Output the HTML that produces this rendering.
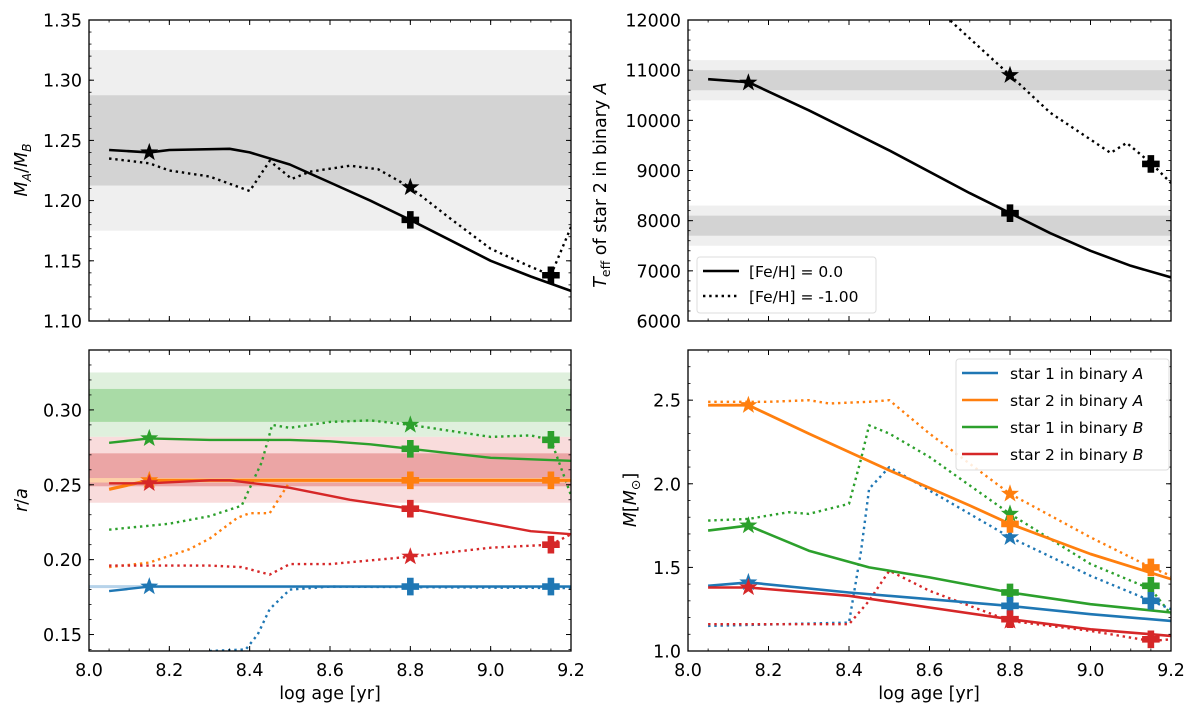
<!DOCTYPE html>
<html><head><meta charset="utf-8">
<style>
body{margin:0;background:#fff;position:relative;width:1200px;height:715px;overflow:hidden;}
svg{display:block;font-family:"DejaVu Sans","Liberation Sans",sans-serif;}
</style></head>
<body>
<svg id="fig" width="1200" height="715" viewBox="0 0 1200 715"></svg>
<script>
// ---------- data ----------
const C = {blue:'#1f77b4', orange:'#ff7f0e', green:'#2ca02c', red:'#d62728', black:'#000'};
// panel 1: mass ratio
const ratioSolidX = [8.05,8.15,8.2,8.35,8.4,8.5,8.6,8.7,8.8,8.9,9.0,9.1,9.2];
const ratioSolidY = [1.242,1.240,1.242,1.243,1.240,1.230,1.215,1.200,1.184,1.167,1.150,1.137,1.125];
const ratioDotX = [8.05,8.15,8.2,8.3,8.4,8.45,8.505,8.55,8.65,8.72,8.8,8.9,9.0,9.1,9.15,9.2];
const ratioDotY = [1.235,1.231,1.225,1.220,1.208,1.233,1.218,1.224,1.229,1.226,1.211,1.185,1.160,1.145,1.138,1.178];
const ratioMarkers = [[8.15,1.240,'star'],[8.8,1.211,'star'],[8.8,1.184,'plus'],[9.15,1.138,'plus']];
// panel 2: Teff
const teffSolidX = [8.05,8.15,8.3,8.5,8.7,8.8,8.9,9.0,9.1,9.2];
const teffSolidY = [10820,10760,10200,9400,8550,8150,7750,7400,7100,6870];
const teffDotX = [8.6,8.65,8.8,8.9,9.05,9.09,9.15,9.2];
const teffDotY = [12600,12000,10900,10150,9350,9550,9150,8750];
const teffMarkers = [[8.15,10750,'star'],[8.8,10900,'star'],[8.8,8150,'plus'],[9.15,9130,'plus']];
// panel 3: r/a
const raGreenX = [8.05,8.15,8.3,8.5,8.6,8.7,8.8,9.0,9.2];
const raGreenY = [0.278,0.281,0.280,0.280,0.279,0.277,0.274,0.268,0.266];
const raGreenDX = [8.05,8.2,8.3,8.38,8.43,8.456,8.5,8.6,8.7,8.8,8.9,9.0,9.1,9.15,9.2];
const raGreenDY = [0.220,0.224,0.229,0.236,0.265,0.290,0.288,0.292,0.293,0.290,0.286,0.282,0.283,0.280,0.243];
const raOrangeX = [8.05,8.15,8.5,9.2];
const raOrangeY = [0.247,0.253,0.253,0.253];
const raOrangeDX = [8.05,8.15,8.25,8.3,8.37,8.4,8.45,8.5];
const raOrangeDY = [0.195,0.198,0.207,0.214,0.228,0.231,0.231,0.252];
const raRedX = [8.05,8.15,8.3,8.35,8.5,8.65,8.8,9.0,9.1,9.2];
const raRedY = [0.251,0.251,0.253,0.253,0.248,0.240,0.234,0.224,0.219,0.217];
const raRedDX = [8.05,8.15,8.3,8.38,8.45,8.5,8.6,8.8,9.0,9.15,9.2];
const raRedDY = [0.196,0.196,0.196,0.195,0.190,0.197,0.197,0.202,0.208,0.210,0.217];
const raBlueX = [8.05,8.15,8.5,9.2];
const raBlueY = [0.179,0.182,0.182,0.182];
const raBlueDX = [8.3,8.39,8.42,8.45,8.5,8.6,9.2];
const raBlueDY = [0.139,0.140,0.150,0.167,0.180,0.182,0.181];
const raMarkers = [
 [8.15,0.281,'star','green'],[8.15,0.253,'star','orange'],[8.15,0.251,'star','red'],[8.15,0.182,'star','blue'],
 [8.8,0.274,'plus','green'],[8.8,0.253,'plus','orange'],[8.8,0.234,'plus','red'],[8.8,0.182,'plus','blue'],
 [8.8,0.290,'star','green'],[8.8,0.202,'star','red'],
 [9.15,0.280,'plus','green'],[9.15,0.253,'plus','orange'],[9.15,0.210,'plus','red'],[9.15,0.182,'plus','blue']];
// panel 4: masses
const mOrangeX = [8.05,8.15,8.3,8.5,8.7,8.8,9.0,9.2];
const mOrangeY = [2.47,2.47,2.30,2.08,1.87,1.76,1.58,1.43];
const mOrangeDX = [8.05,8.2,8.3,8.35,8.45,8.5,8.6,8.7,8.8,9.0,9.15,9.2];
const mOrangeDY = [2.49,2.49,2.50,2.48,2.49,2.50,2.30,2.12,1.94,1.68,1.50,1.45];
const mGreenX = [8.05,8.15,8.3,8.45,8.6,8.8,9.0,9.2];
const mGreenY = [1.72,1.75,1.60,1.50,1.44,1.35,1.28,1.23];
const mGreenDX = [8.05,8.15,8.25,8.3,8.4,8.43,8.45,8.5,8.6,8.8,9.0,9.15,9.2];
const mGreenDY = [1.78,1.79,1.83,1.82,1.88,2.15,2.35,2.30,2.16,1.82,1.52,1.37,1.22];
const mBlueX = [8.05,8.15,8.4,8.6,8.8,9.0,9.2];
const mBlueY = [1.39,1.41,1.35,1.31,1.27,1.22,1.18];
const mBlueDX = [8.05,8.4,8.43,8.45,8.5,8.6,8.8,9.0,9.15,9.2];
const mBlueDY = [1.15,1.17,1.60,1.97,2.10,1.96,1.68,1.45,1.30,1.25];
const mRedX = [8.05,8.15,8.4,8.6,8.8,9.0,9.2];
const mRedY = [1.38,1.38,1.33,1.26,1.19,1.13,1.09];
const mRedDX = [8.05,8.4,8.45,8.5,8.6,8.8,9.0,9.15,9.2];
const mRedDY = [1.16,1.16,1.30,1.48,1.36,1.18,1.12,1.06,1.07];
const mMarkers = [
 [8.15,2.47,'star','orange'],[8.15,1.75,'star','green'],[8.15,1.41,'star','blue'],[8.15,1.38,'star','red'],
 [8.8,1.94,'star','orange'],[8.8,1.82,'star','green'],[8.8,1.68,'star','blue'],[8.8,1.18,'star','red'],
 [8.8,1.76,'plus','orange'],[8.8,1.35,'plus','green'],[8.8,1.27,'plus','blue'],[8.8,1.19,'plus','red'],
 [9.15,1.50,'plus','orange'],[9.15,1.39,'plus','green'],[9.15,1.30,'plus','blue'],[9.15,1.07,'plus','red']];
const xTicks = [8.0,8.2,8.4,8.6,8.8,9.0,9.2];
const xTickLabels = ['8.0','8.2','8.4','8.6','8.8','9.0','9.2'];

// ---------- helpers ----------
const NS='http://www.w3.org/2000/svg';
const svg=document.getElementById('fig');
function mk(tag,attrs,parent){const e=document.createElementNS(NS,tag);for(const k in attrs)e.setAttribute(k,attrs[k]);(parent||svg).appendChild(e);return e;}

function makePanel(name,L,R,T,B,x0,x1,y0,y1){
  const g=mk('g',{});
  
  
  const clipId=name+'-clip';
  const cp=mk('clipPath',{id:clipId},g);mk('rect',{x:L,y:T,width:R-L,height:B-T},cp);
  const inner=mk('g',{'clip-path':'url(#'+clipId+')'},g);
  return {g,inner,L,R,T,B,sx:v=>L+(v-x0)/(x1-x0)*(R-L),sy:v=>B-(v-y0)/(y1-y0)*(B-T),x0,x1,y0,y1};
}
function band(p,lo,hi,color,name){
  const r=mk('rect',{x:p.L,width:p.R-p.L,y:p.sy(hi),height:p.sy(lo)-p.sy(hi),fill:color},p.inner);
  
  
}
function line(p,xs,ys,color,dotted,name,w){
  const pts=xs.map((x,i)=>p.sx(x).toFixed(1)+','+p.sy(ys[i]).toFixed(1)).join(' ');
  const a={points:pts,fill:'none',stroke:color,'stroke-width':w||2.4,'stroke-linejoin':'round'};
  if(dotted){a['stroke-dasharray']='2.4,3.8';a['stroke-width']=2.4;}
  const e=mk('polyline',a,p.inner);
  
  
}
function marker(p,x,y,type,color,name){
  const cx=p.sx(x),cy=p.sy(y);let pts=[];
  if(type==='star'){for(let i=0;i<10;i++){const r=i%2?3.8:9.5;const a=-Math.PI/2+i*Math.PI/5;pts.push((cx+r*Math.cos(a)).toFixed(1)+','+(cy+r*Math.sin(a)).toFixed(1));}}
  else{const a=3.3,b=8.8;[[-a,-b],[a,-b],[a,-a],[b,-a],[b,a],[a,a],[a,b],[-a,b],[-a,a],[-b,a],[-b,-a],[-a,-a]].forEach(q=>pts.push((cx+q[0])+','+(cy+q[1])));}
  const e=mk('polygon',{points:pts.join(' '),fill:color},p.inner);
  
  
}
function axes(p,yt,ylabFmt,yMinor,showX){
  const minorX=[];for(let v=8.0;v<=9.2001;v+=0.05)minorX.push(v);
  minorX.forEach(v=>{const X=p.sx(v);mk('line',{x1:X,x2:X,y1:p.B,y2:p.B-2.5,stroke:'#000','stroke-width':0.8},p.g);mk('line',{x1:X,x2:X,y1:p.T,y2:p.T+2.5,stroke:'#000','stroke-width':0.8},p.g);});
  xTicks.forEach((v,i)=>{const X=p.sx(v);mk('line',{x1:X,x2:X,y1:p.B,y2:p.B-5,stroke:'#000','stroke-width':1},p.g);mk('line',{x1:X,x2:X,y1:p.T,y2:p.T+5,stroke:'#000','stroke-width':1},p.g);
    if(showX){const t=mk('text',{x:X,y:p.B+25,'text-anchor':'middle','font-size':17.5},p.g);t.textContent=xTickLabels[i];
      
      }});
  yMinor.forEach(v=>{const Y=p.sy(v);mk('line',{x1:p.L,x2:p.L+2.5,y1:Y,y2:Y,stroke:'#000','stroke-width':0.8},p.g);mk('line',{x1:p.R,x2:p.R-2.5,y1:Y,y2:Y,stroke:'#000','stroke-width':0.8},p.g);});
  yt.forEach(v=>{const Y=p.sy(v);mk('line',{x1:p.L,x2:p.L+5,y1:Y,y2:Y,stroke:'#000','stroke-width':1},p.g);mk('line',{x1:p.R,x2:p.R-5,y1:Y,y2:Y,stroke:'#000','stroke-width':1},p.g);
    const t=mk('text',{x:p.L-7,y:Y+6.5,'text-anchor':'end','font-size':17.5},p.g);t.textContent=ylabFmt(v);
    
    });
  mk('rect',{x:p.L,y:p.T,width:p.R-p.L,height:p.B-p.T,fill:'none',stroke:'#000','stroke-width':1.3},p.g);
}
function range(a,b,s){const r=[];for(let v=a;v<=b+1e-9;v+=s)r.push(+v.toFixed(6));return r;}

// ---------- panel 1 ----------
const p1=makePanel('mass-ratio-panel',89,571,20,321,8.0,9.2,1.10,1.35);
band(p1,1.175,1.325,'#efefef','ratio-band-outer');
band(p1,1.2125,1.2875,'#d3d3d3','ratio-band-inner');
line(p1,ratioSolidX,ratioSolidY,'#000',false,'ratio-solar-line',2.6);
line(p1,ratioDotX,ratioDotY,'#000',true,'ratio-metalpoor-line');
ratioMarkers.forEach(m=>marker(p1,m[0],m[1],m[2],'#000','ratio-'+m[2]+'-marker'));
axes(p1,range(1.10,1.35,0.05),v=>v.toFixed(2),range(1.10,1.35,0.01),false);

// ---------- panel 2 ----------
const p2=makePanel('teff-panel',688,1171,20,321,8.0,9.2,6000,12000);
band(p2,10400,11200,'#efefef','teff-upper-band-outer');
band(p2,10600,11000,'#d3d3d3','teff-upper-band-inner');
band(p2,7500,8300,'#efefef','teff-lower-band-outer');
band(p2,7700,8100,'#d3d3d3','teff-lower-band-inner');
line(p2,teffSolidX,teffSolidY,'#000',false,'teff-solar-line',2.6);
line(p2,teffDotX,teffDotY,'#000',true,'teff-metalpoor-line');
teffMarkers.forEach(m=>marker(p2,m[0],m[1],m[2],'#000','teff-'+m[2]+'-marker'));
axes(p2,range(6000,12000,1000),v=>String(v),range(6000,12000,200),false);

// ---------- panel 3 ----------
const p3=makePanel('radius-panel',89,571,350,651,8.0,9.2,0.139,0.34);
band(p3,0.282,0.325,'#dff0dd','green-band-outer');
band(p3,0.292,0.314,'#a9dba6','green-band-inner');
band(p3,0.238,0.282,'#f9dcdc','red-band-outer');
band(p3,0.249,0.271,'#eba5a5','red-band-inner');
band(p3,0.2515,0.2545,'#fdd0a8','orange-band');
band(p3,0.181,0.183,'#b7d3ea','blue-band');
line(p3,raGreenDX,raGreenDY,C.green,true,'ra-green-dotted');
line(p3,raOrangeDX,raOrangeDY,C.orange,true,'ra-orange-dotted');
line(p3,raRedDX,raRedDY,C.red,true,'ra-red-dotted');
line(p3,raBlueDX,raBlueDY,C.blue,true,'ra-blue-dotted');
line(p3,raGreenX,raGreenY,C.green,false,'ra-green-line');
line(p3,raOrangeX,raOrangeY,C.orange,false,'ra-orange-line',3.2);
line(p3,raRedX,raRedY,C.red,false,'ra-red-line');
line(p3,raBlueX,raBlueY,C.blue,false,'ra-blue-line');
raMarkers.forEach(m=>marker(p3,m[0],m[1],m[2],C[m[3]],'ra-'+m[3]+'-'+m[2]));
axes(p3,[0.15,0.20,0.25,0.30],v=>v.toFixed(2),range(0.14,0.34,0.01),true);

// ---------- panel 4 ----------
const p4=makePanel('mass-panel',688,1171,350,651,8.0,9.2,1.0,2.8);
line(p4,mOrangeDX,mOrangeDY,C.orange,true,'m-orange-dotted');
line(p4,mGreenDX,mGreenDY,C.green,true,'m-green-dotted');
line(p4,mBlueDX,mBlueDY,C.blue,true,'m-blue-dotted');
line(p4,mRedDX,mRedDY,C.red,true,'m-red-dotted');
line(p4,mOrangeX,mOrangeY,C.orange,false,'m-orange-line',2.8);
line(p4,mGreenX,mGreenY,C.green,false,'m-green-line',2.6);
line(p4,mBlueX,mBlueY,C.blue,false,'m-blue-line',2.6);
line(p4,mRedX,mRedY,C.red,false,'m-red-line',2.6);
mMarkers.forEach(m=>marker(p4,m[0],m[1],m[2],C[m[3]],'m-'+m[3]+'-'+m[2]));
axes(p4,[1.0,1.5,2.0,2.5],v=>v.toFixed(1),range(1.0,2.8,0.1),true);
</script>
<svg width="1200" height="715" style="position:absolute;left:0;top:0">
 <g font-family="DejaVu Sans, Liberation Sans, sans-serif" font-size="17.5">
  <text x="330" y="699" text-anchor="middle">log age [yr]</text>
  <text x="929" y="699" text-anchor="middle">log age [yr]</text>
  <text transform="translate(27,170) rotate(-90)" text-anchor="middle"><tspan font-style="italic">M</tspan><tspan font-style="italic" font-size="12.5" dy="4">A</tspan><tspan dy="-4">/</tspan><tspan font-style="italic">M</tspan><tspan font-style="italic" font-size="12.5" dy="4">B</tspan></text>
  <text transform="translate(606,185) rotate(-90)" text-anchor="middle"><tspan font-style="italic">T</tspan><tspan font-size="12.5" dy="4">eff</tspan><tspan dy="-4"> of star 2 in binary </tspan><tspan font-style="italic">A</tspan></text>
  <text transform="translate(27,500) rotate(-90)" text-anchor="middle"><tspan font-style="italic">r</tspan>/<tspan font-style="italic">a</tspan></text>
  <text transform="translate(636,500) rotate(-90)" text-anchor="middle"><tspan font-style="italic">M</tspan>[<tspan font-style="italic">M</tspan><tspan font-size="12.5" dy="4">⊙</tspan><tspan dy="-4">]</tspan></text>
 </g>
 <g font-family="DejaVu Sans, Liberation Sans, sans-serif" font-size="15.5">
  <rect x="697" y="257" width="179" height="56" rx="3" fill="#fff" fill-opacity="0.85" stroke="#ddd"/>
  <line x1="703" x2="739" y1="271" y2="271" stroke="#000" stroke-width="2.4"/>
  <text x="749" y="277">[Fe/H] = 0.0</text>
  <line x1="703" x2="739" y1="296" y2="296" stroke="#000" stroke-width="2.4" stroke-dasharray="2.4,3.8"/>
  <text x="749" y="302">[Fe/H] = -1.00</text>
 </g>
 <g font-family="DejaVu Sans, Liberation Sans, sans-serif" font-size="15.5">
  <rect x="956" y="359" width="213" height="111" rx="3" fill="#fff" fill-opacity="0.85" stroke="#ddd"/>
  <line x1="962" x2="998" y1="373" y2="373" stroke="#1f77b4" stroke-width="2.6"/>
  <text x="1010" y="379">star 1 in binary <tspan font-style="italic">A</tspan></text>
  <line x1="962" x2="998" y1="400" y2="400" stroke="#ff7f0e" stroke-width="2.6"/>
  <text x="1010" y="406">star 2 in binary <tspan font-style="italic">A</tspan></text>
  <line x1="962" x2="998" y1="427" y2="427" stroke="#2ca02c" stroke-width="2.6"/>
  <text x="1010" y="433">star 1 in binary <tspan font-style="italic">B</tspan></text>
  <line x1="962" x2="998" y1="454" y2="454" stroke="#d62728" stroke-width="2.6"/>
  <text x="1010" y="460">star 2 in binary <tspan font-style="italic">B</tspan></text>
 </g>
</svg>
</body></html>
